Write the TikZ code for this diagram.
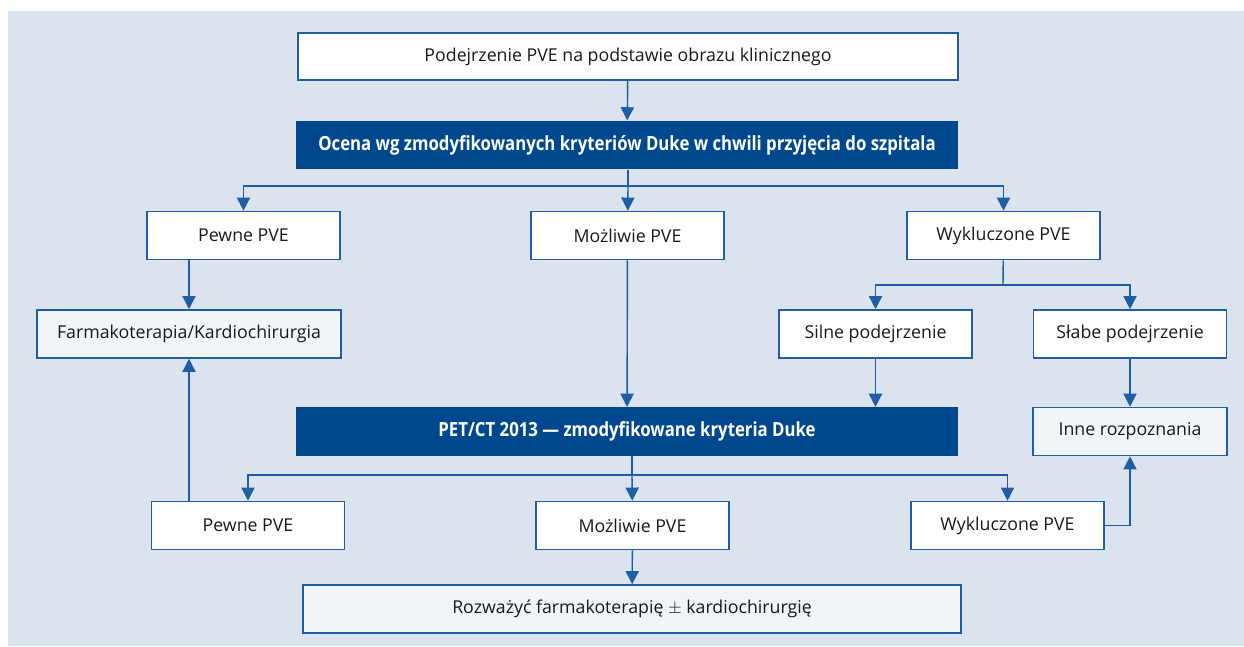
\documentclass[tikz,border=0pt]{standalone}
\usepackage{fontspec}
\setmainfont{Open Sans}
\newfontfamily\headfont[FakeStretch=0.86]{Open Sans}
\usepackage{xcolor}
\usetikzlibrary{arrows.meta}

\definecolor{bgblue}{HTML}{DAE3EE}
\definecolor{darkblue}{HTML}{00488E}
\definecolor{lineblue}{HTML}{1F5EA6}
\definecolor{lightfill}{HTML}{F1F5F9}

\begin{document}
\begin{tikzpicture}[x=0.02cm, y=-0.02cm,
    box/.style={draw=lineblue, line width=0.9pt, fill=white, minimum height=0.96cm,
        inner sep=0pt, font=\fontsize{10.1}{12}\selectfont, text=black!90},
    small/.style={box, minimum width=3.86cm},
    light/.style={box, fill=lightfill},
    head/.style={fill=darkblue, text=white, minimum width=13.24cm, minimum height=0.97cm,
        inner sep=0pt, font=\headfont\bfseries\fontsize{11.1}{13}\selectfont},
    arr/.style={draw=lineblue, line width=0.8pt, -{Triangle[length=7.5pt, width=7.5pt]}},
    ln/.style={draw=lineblue, line width=0.8pt}]
    \useasboundingbox (0,0) rectangle (1244,646);
    \fill[bgblue] (8,11) rectangle (1244,646);

    \node [box, minimum width=13.2cm, minimum height=0.94cm] (top) at (628,56.5) {Podejrzenie PVE na podstawie obrazu klinicznego};
    \node [head] (ocena) at (627,145) {Ocena wg zmodyfikowanych kryteriów Duke w chwili przyjęcia do szpitala};
    \node [small] (p1) at (243.5,235.5) {Pewne PVE};
    \node [small] (m1) at (627.5,235.5) {Możliwie PVE};
    \node [small] (w1) at (1003.5,235.5) {Wykluczone PVE};
    \node [light, minimum width=6.08cm] (farm) at (189,334) {Farmakoterapia/Kardiochirurgia};
    \node [small] (silne) at (875.5,334) {Silne podejrzenie};
    \node [small] (slabe) at (1130,334) {Słabe podejrzenie};
    \node [head] (pet) at (627,431.5) {PET/CT 2013 — zmodyfikowane kryteria Duke};
    \node [light, minimum width=3.88cm] (inne) at (1130,431.5) {Inne rozpoznania};
    \node [small] (p2) at (248,525.5) {Pewne PVE};
    \node [small] (m2) at (632.5,525.5) {Możliwie PVE};
    \node [small] (w2) at (1007.5,525.5) {Wykluczone PVE};
    \node [light, minimum width=13.16cm] (rozw) at (632,609) {Rozważyć farmakoterapię $\pm$ kardiochirurgię};

    \coordinate (s1) at (628,186);
    \coordinate (s2) at (1003,285);
    \coordinate (s3) at (632,475);

    \draw[arr] (top) -- (ocena);
    \draw[ln] (ocena.south -| s1) -- (s1);
    \draw[arr] (s1) -| (p1);
    \draw[arr] (s1) -- (m1);
    \draw[arr] (s1) -| (w1);
    \draw[arr] (p1.south -| farm) -- (farm);
    \draw[arr] (m1) -- (pet);
    \draw[ln] (w1) -- (s2);
    \draw[arr] (s2) -| (silne);
    \draw[arr] (s2) -| (slabe);
    \draw[arr] (silne) -- (silne |- pet.north);
    \draw[arr] (slabe) -- (inne);
    \draw[ln] (pet.south -| s3) -- (s3);
    \draw[arr] (s3) -| (p2);
    \draw[arr] (s3) -- (m2);
    \draw[arr] (s3) -| (w2);
    \draw[arr] (p2.north -| farm) -- (farm);
    \draw[arr] (m2) -- (rozw);
    \draw[arr] (w2) -| (inne);
\end{tikzpicture}
\end{document}
